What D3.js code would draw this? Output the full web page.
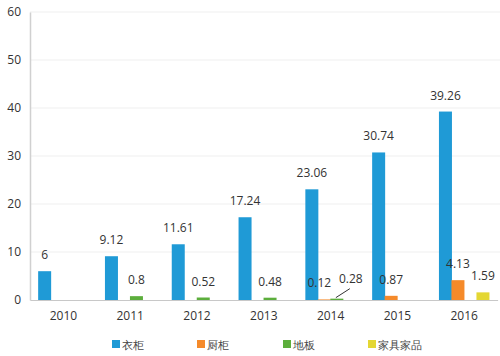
<!DOCTYPE html>
<html>
<head>
<meta charset="utf-8">
<script src="https://cdn.jsdelivr.net/npm/d3@7"></script>
<style>
  html, body { margin: 0; padding: 0; background: #fff; }
  svg { display: block; }
  text { font-family: "Open Sans", sans-serif; }
</style>
</head>
<body>
<svg id="chart" width="500" height="356"></svg>
<script>
const years = ["2010", "2011", "2012", "2013", "2014", "2015", "2016"];
const seriesNames = ["衣柜", "厨柜", "地板", "家具家品"];
const wardrobe = [6, 9.12, 11.61, 17.24, 23.06, 30.74, 39.26];
const cabinet = [null, null, null, null, 0.12, 0.87, 4.13];
const flooring = [null, 0.8, 0.52, 0.48, 0.28, null, null];
const homeGoods = [null, null, null, null, null, null, 1.59];
const yTicks = [0, 10, 20, 30, 40, 50, 60];
const colors = ["#1f9ad6", "#f58a2a", "#5cae3c", "#e4d733"];

const seriesValues = [wardrobe, cabinet, flooring, homeGoods];

const svg = d3.select("#chart");
const mLeft = 30, mRight = 497.6, mTop = 12, mBottom = 300;

const y = d3.scaleLinear().domain([0, 60]).range([mBottom, mTop]);
const x0 = d3.scaleBand().domain(years).range([mLeft, mRight]).paddingInner(0).paddingOuter(0);
const x1 = d3.scaleBand().domain(seriesNames).range([8.4, 58.4]).padding(0);

// gridlines
svg.append("g").selectAll("line").data(yTicks.filter(d => d > 0)).join("line")
  .attr("x1", mLeft).attr("x2", 500)
  .attr("y1", d => y(d)).attr("y2", d => y(d))
  .attr("stroke", "#efefef").attr("stroke-width", 1);

// y axis
const yAxis = svg.append("g").attr("transform", `translate(${mLeft},0)`)
  .call(d3.axisLeft(y).tickValues(yTicks).tickSize(0).tickPadding(9));
yAxis.select(".domain").attr("stroke", "#d0d0d0").attr("stroke-width", 1.5);
yAxis.selectAll("text").attr("font-size", 12).attr("fill", "#333");

// x axis
const xAxis = svg.append("g").attr("transform", `translate(0,${mBottom})`)
  .call(d3.axisBottom(x0).tickSize(0).tickPadding(11));
xAxis.select(".domain").attr("stroke", "#c8c8c8").attr("stroke-width", 1);
xAxis.selectAll("text").attr("font-size", 12).attr("fill", "#333");

// flatten data
const flat = [];
seriesValues.forEach((vals, si) => {
  vals.forEach((v, i) => {
    if (v !== null) flat.push({ year: years[i], series: seriesNames[si], si, value: v });
  });
});

const barW = 13;
const bx = d => x0(d.year) + x1(d.series) + x1.bandwidth() / 2;

svg.append("g").selectAll("rect").data(flat).join("rect")
  .attr("x", d => bx(d) - barW / 2)
  .attr("y", d => y(d.value))
  .attr("width", barW)
  .attr("height", d => y(0) - y(d.value))
  .attr("fill", d => colors[d.si]);

// label offsets to avoid collisions (2014 small bars)
const labelDx = d => {
  if (d.year === "2014" && d.si === 1) return -5;
  if (d.year === "2014" && d.si === 2) return 14;
  return 0;
};
const labelDy = d => {
  if (d.year === "2014" && d.si === 2) return -4;
  return 0;
};

// leader line for 2014 flooring
const lead = flat.filter(d => d.year === "2014" && d.si === 2);
svg.append("g").selectAll("line").data(lead).join("line")
  .attr("x1", d => bx(d) - 1)
  .attr("y1", d => y(d.value) - 1)
  .attr("x2", d => bx(d) + 13)
  .attr("y2", d => y(d.value) - 10)
  .attr("stroke", "#333").attr("stroke-width", 1);

svg.append("g").selectAll("text").data(flat).join("text")
  .attr("x", d => bx(d) + labelDx(d))
  .attr("y", d => y(d.value) - 12 + labelDy(d))
  .attr("text-anchor", "middle")
  .attr("font-size", 12)
  .attr("fill", "#333")
  .text(d => d.value);

// legend
const legendX = [112, 197, 283, 368];
const lg = svg.append("g").selectAll("g").data(seriesNames).join("g")
  .attr("transform", (d, i) => `translate(${legendX[i]},340)`);
lg.append("rect").attr("width", 8).attr("height", 8).attr("fill", (d, i) => colors[i]);
lg.append("text").attr("x", 10).attr("y", 8.5)
  .attr("font-size", 11).attr("fill", "#444")
  .attr("font-family", "'Noto Sans CJK SC', sans-serif")
  .text(d => d);
</script>
</body>
</html>
